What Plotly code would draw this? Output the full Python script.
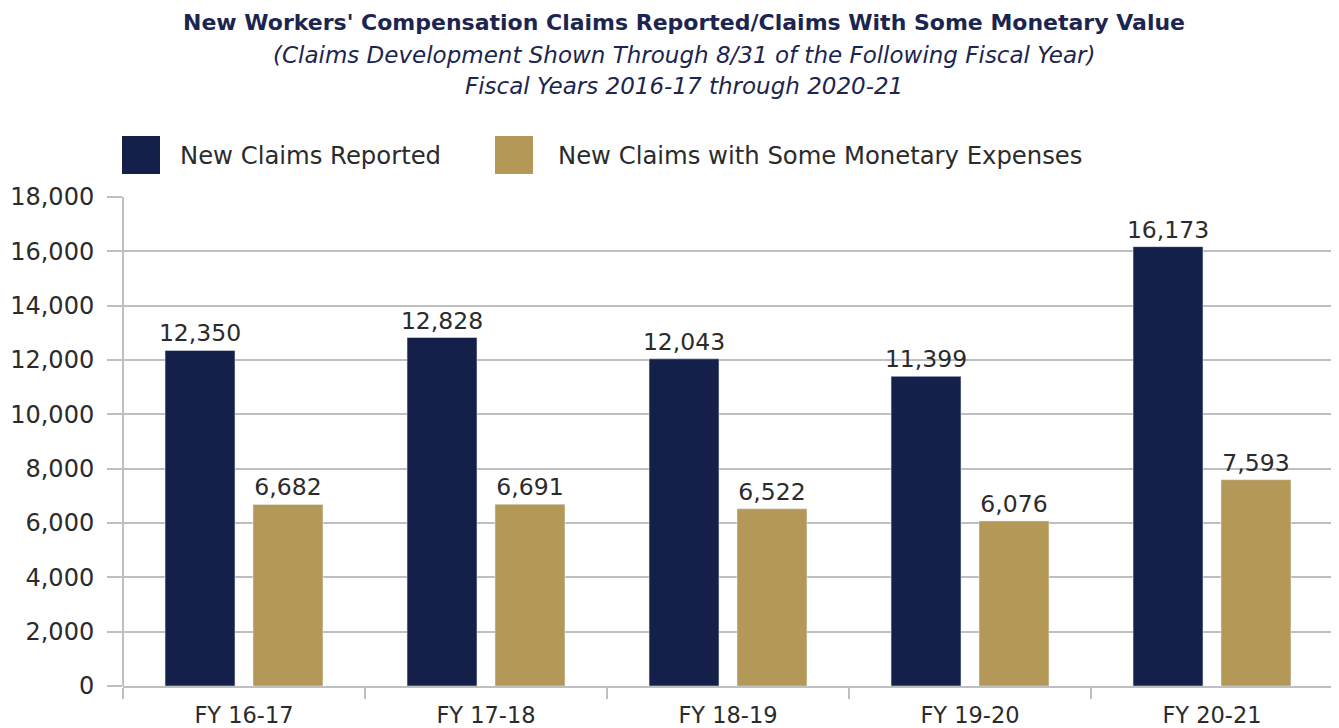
import plotly.graph_objects as go

categories = ["FY 16-17", "FY 17-18", "FY 18-19", "FY 19-20", "FY 20-21"]
new_claims = [12350, 12828, 12043, 11399, 16173]
monetary_claims = [6682, 6691, 6522, 6076, 7593]
series_names = ["New Claims Reported", "New Claims with Some Monetary Expenses"]
y_ticks = [0, 2000, 4000, 6000, 8000, 10000, 12000, 14000, 16000, 18000]
title_lines = [
    "<b>New Workers' Compensation Claims Reported/Claims With Some Monetary Value</b>",
    "<i>(Claims Development Shown Through 8/31 of the Following Fiscal Year)</i>",
    "<i>Fiscal Years 2016-17 through 2020-21</i>",
]

NAVY = "#14204a"
GOLD = "#b39858"
FONT = "'DejaVu Sans', 'Open Sans', sans-serif"
TXT = "#2b2b2b"
TITLE_C = "#1c2550"

# page has 8px body margin -> figure coords = screen coords - 8
OFF = 8
W, Hh = 1339 - OFF, 728 - OFF
L, R_, T, B = 123 - OFF, 6, 197 - OFF, 42
PW = W - L - R_
H = Hh - T - B

def px_(sx):
    return (sx - OFF - L) / PW

def py(sy):
    return (Hh - B - (sy - OFF)) / H

fig = go.Figure()
fig.add_trace(go.Bar(x=categories, y=new_claims, name=series_names[0], marker_color=NAVY,
                     text=[f"{v:,}" for v in new_claims], textposition="outside",
                     constraintext="none",
                     textfont=dict(size=23.5, color=TXT, family=FONT), cliponaxis=False,
                     showlegend=False))
fig.add_trace(go.Bar(x=categories, y=monetary_claims, name=series_names[1], marker_color=GOLD,
                     text=[f"{v:,}" for v in monetary_claims], textposition="outside",
                     constraintext="none",
                     textfont=dict(size=23.5, color=TXT, family=FONT), cliponaxis=False,
                     showlegend=False))

# legend drawn manually for large squares
fig.add_shape(type="rect", xref="paper", yref="paper", x0=px_(122), x1=px_(160), y0=py(174), y1=py(136),
              fillcolor=NAVY, line_width=0)
fig.add_shape(type="rect", xref="paper", yref="paper", x0=px_(495), x1=px_(533), y0=py(174), y1=py(136),
              fillcolor=GOLD, line_width=0)
fig.add_annotation(xref="paper", yref="paper", x=px_(178), y=py(155), text=series_names[0],
                   showarrow=False, xanchor="left", yanchor="middle",
                   font=dict(size=24.3, color=TXT, family=FONT))
fig.add_annotation(xref="paper", yref="paper", x=px_(556), y=py(155), text=series_names[1],
                   showarrow=False, xanchor="left", yanchor="middle",
                   font=dict(size=24.3, color=TXT, family=FONT))

# title lines
for txt, yp, sz in zip(title_lines, [22, 55, 86], [22, 23, 23]):
    fig.add_annotation(xref="paper", yref="paper", x=px_(684), y=py(yp), text=txt,
                       showarrow=False, xanchor="center", yanchor="middle",
                       font=dict(size=sz, color=TITLE_C, family=FONT))

fig.update_layout(
    width=W, height=Hh,
    margin=dict(l=L, r=R_, t=T, b=B, autoexpand=False),
    paper_bgcolor="white", plot_bgcolor="white",
    barmode="group", bargap=0.273, bargroupgap=0.205,
    font=dict(family=FONT, color=TXT),
    showlegend=False,
)
fig.update_yaxes(range=[0, 18000], tickvals=y_ticks, tickformat=",d", automargin=False,
                 showgrid=True, gridcolor="#bdbfc1", gridwidth=2,
                 ticks="outside", ticklen=15, tickcolor="#bdbfc1", tickwidth=2,
                 ticklabelstandoff=8,
                 showline=False, zeroline=False,
                 tickfont=dict(size=24, color=TXT, family=FONT))
fig.update_xaxes(showline=True, linecolor="#bdbfc1", linewidth=2, automargin=False,
                 ticks="outside", tickson="boundaries", ticklen=11, tickcolor="#bdbfc1", tickwidth=2,
                 ticklabelstandoff=8,
                 tickfont=dict(size=22.5, color=TXT, family=FONT), showgrid=False)
# vertical axis line at left
fig.add_shape(type="line", xref="paper", yref="paper", x0=0, x1=0, y0=0, y1=1,
              line=dict(color="#bdbfc1", width=2))

fig.write_html("out.html")
